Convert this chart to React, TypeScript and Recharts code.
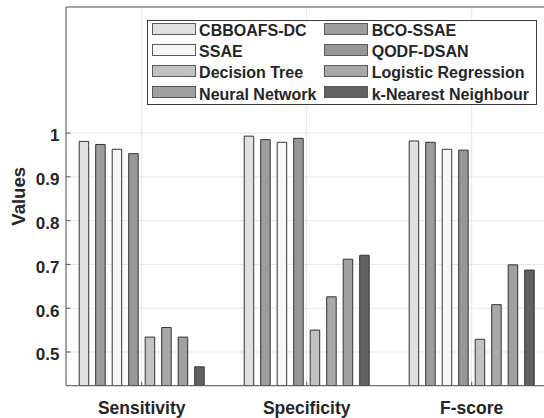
import React from 'react';
import { BarChart, Bar, XAxis, YAxis, CartesianGrid, Legend, ReferenceLine } from 'recharts';

const categories = ['Sensitivity', 'Specificity', 'F-score'];
const methods = [
  'CBBOAFS-DC',
  'BCO-SSAE',
  'SSAE',
  'QODF-DSAN',
  'Decision Tree',
  'Logistic Regression',
  'Neural Network',
  'k-Nearest Neighbour',
];
const cbboafsDc = [0.981, 0.993, 0.982];
const bcoSsae = [0.974, 0.985, 0.979];
const ssae = [0.963, 0.979, 0.963];
const qodfDsan = [0.953, 0.988, 0.961];
const decisionTree = [0.534, 0.55, 0.529];
const logisticRegression = [0.556, 0.626, 0.608];
const neuralNetwork = [0.534, 0.712, 0.699];
const knn = [0.466, 0.721, 0.687];
const yTicks = [0.5, 0.6, 0.7, 0.8, 0.9, 1];

const seriesValues = [cbboafsDc, bcoSsae, ssae, qodfDsan, decisionTree, logisticRegression, neuralNetwork, knn];
const fills = ['#e0e0e0', '#9d9d9d', '#f7f7f7', '#979797', '#c2c2c2', '#a8a8a8', '#a0a0a0', '#626262'];

const Y_MIN = 0.423;
const Y_MAX = 1.288;
const PLOT_LEFT = 66;
const PLOT_BOTTOM = 385.7;
const FONT = '"Liberation Sans", Arial, Helvetica, sans-serif';
const TEXT = '#262626';
const AXIS = '#555555';

const data = categories.map((name, i) => {
  const row: Record<string, string | number> = { name };
  methods.forEach((m, j) => {
    row[m] = seriesValues[j][i];
  });
  return row;
});

const YTick = (props: any) => {
  const { y, payload } = props;
  return (
    <g>
      <line x1={PLOT_LEFT} x2={PLOT_LEFT + 4.5} y1={y} y2={y} stroke={AXIS} strokeWidth={1} />
      <text x={PLOT_LEFT - 6.5} y={y + 8.3} textAnchor="end" fontFamily={FONT} fontWeight="bold" fontSize={17} fill={TEXT}>
        {payload.value}
      </text>
    </g>
  );
};

const XTick = (props: any) => {
  const { x, payload } = props;
  return (
    <g>
      <line x1={x} x2={x} y1={PLOT_BOTTOM} y2={PLOT_BOTTOM - 4} stroke={AXIS} strokeWidth={1} />
      <text x={x} y={PLOT_BOTTOM + 28.3} textAnchor="middle" fontFamily={FONT} fontWeight="bold" fontSize={17.5} fill={TEXT}>
        {payload.value}
      </text>
    </g>
  );
};

const LegendBox = (props: any) => {
  const payload = [...(props.payload || [])].sort(
    (a: any, b: any) => methods.indexOf(a.value) - methods.indexOf(b.value)
  );
  return (
    <div
      style={{
        position: 'relative',
        width: 388,
        height: 83,
        border: '1px solid #3a3a3a',
        background: '#ffffff',
        fontFamily: FONT,
        fontWeight: 'bold',
        fontSize: 16,
        color: TEXT,
      }}
    >
      {payload.map((entry: any, i: number) => {
        const col = i % 2;
        const row = Math.floor(i / 2);
        const left = 3.5 + col * 172.6;
        const top = 1.7 + row * 21.2;
        return (
          <div key={entry.value} style={{ position: 'absolute', left, top, height: 22 }}>
            <div
              style={{
                position: 'absolute',
                left: 0,
                top: 0,
                width: 42,
                height: 10,
                background: entry.color,
                border: '1px solid #5a5a5a',
              }}
            />
            <div style={{ position: 'absolute', left: 47.6, top: 0.3, lineHeight: '16px', whiteSpace: 'nowrap' }}>
              {entry.value}
            </div>
          </div>
        );
      })}
    </div>
  );
};

const ValuesLabel = (props: any) => {
  const vb = props.viewBox || { y: 7, height: 378.7 };
  const cy = vb.y + vb.height / 2;
  return (
    <text
      x={25}
      y={cy}
      transform={`rotate(-90, 25, ${cy})`}
      textAnchor="middle"
      fontFamily={FONT}
      fontWeight="bold"
      fontSize={18.5}
      fill={TEXT}
    >
      Values
    </text>
  );
};

const App: React.FC = () => {
  return (
    <div style={{ position: 'fixed', left: 0, top: 0, width: 544, height: 418, overflow: 'hidden', background: '#fff' }}>
      <BarChart
        width={560}
        height={418}
        data={data}
        margin={{ top: 7, right: 12.3, bottom: 0, left: 0 }}
        barSize={9.5}
        barGap={7}
      >
        <CartesianGrid stroke="#e6e6e6" strokeWidth={1} />
        <XAxis
          dataKey="name"
          padding={{ left: -6.8, right: -6.5 }}
          axisLine={{ stroke: AXIS }}
          tickLine={false}
          tick={<XTick />}
          interval={0}
          height={418 - PLOT_BOTTOM}
        />
        <YAxis
          width={PLOT_LEFT}
          domain={[Y_MIN, Y_MAX]}
          ticks={yTicks}
          allowDataOverflow
          axisLine={{ stroke: AXIS }}
          tickLine={false}
          tick={<YTick />}
          label={(p: any) => <ValuesLabel {...p} />}
        />
        <ReferenceLine y={Y_MAX} stroke={AXIS} strokeWidth={1} />
        <Legend
          layout="horizontal"
          verticalAlign="middle"
          align="center"
          itemSorter={null as any}
          wrapperStyle={{ left: 147, top: 20, width: 390, height: 85 }}
          content={<LegendBox />}
        />
        {methods.map((m, j) => (
          <Bar key={m} dataKey={m} fill={fills[j]} stroke="#333333" strokeWidth={1} isAnimationActive={false} />
        ))}
      </BarChart>
    </div>
  );
};

export default App;
